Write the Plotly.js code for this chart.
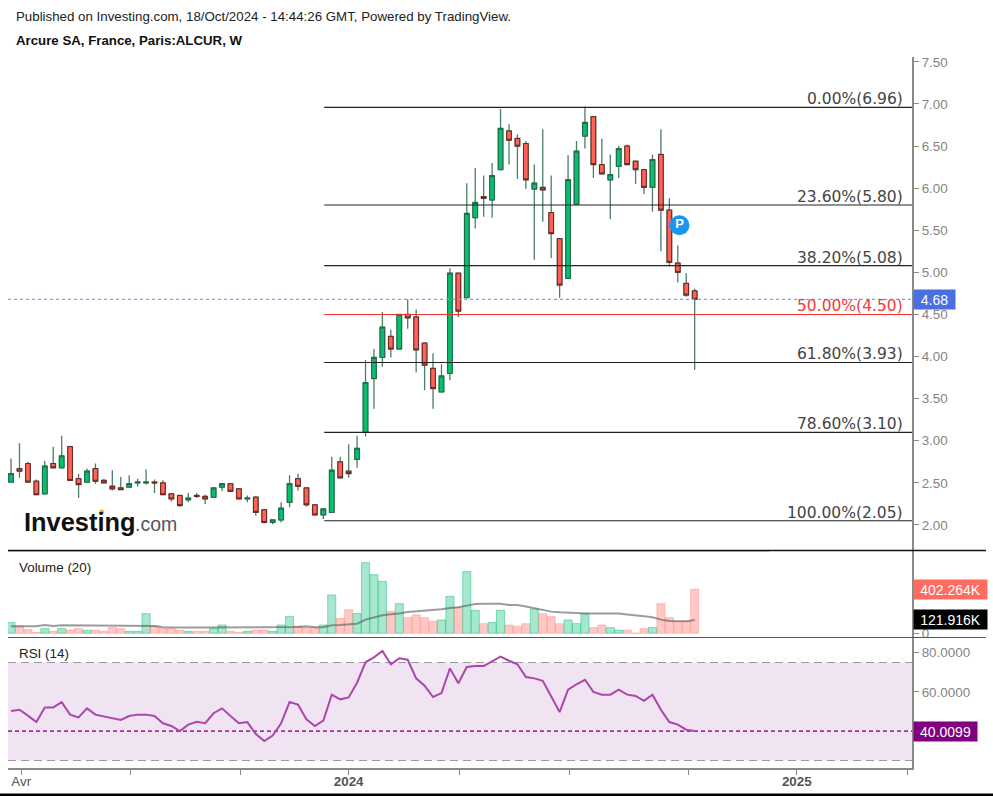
<!DOCTYPE html>
<html>
<head>
<meta charset="utf-8">
<script src="https://cdn.plot.ly/plotly-3.0.1.min.js"></script>
<style>
  html, body { margin: 0; padding: 0; background: #fff; }
  #plot { width: 993px; height: 796px; }
</style>
</head>
<body>
<div id="plot"></div>
<script>
// Weekly candles, index 0 = first week on screen
const opens = [2.51,2.67,2.73,2.52,2.37,2.73,2.68,2.93,2.55,2.51,2.67,2.53,2.46,2.44,2.45,2.50,2.50,2.51,2.50,2.37,
  2.35,2.30,2.35,2.34,2.33,2.45,2.49,2.43,2.31,2.33,2.18,2.03,2.06,2.27,2.55,2.44,2.24,2.12,2.15,2.75,
  2.64,2.78,3.10,3.74,3.99,4.24,4.09,4.50,4.47,4.16,3.86,3.58,3.80,4.99,4.70,5.65,5.90,5.86,6.22,6.68,
  6.59,6.53,5.99,6.01,5.71,5.40,4.93,5.81,6.62,6.85,6.28,6.10,6.26,6.50,6.32,6.22,6.01,6.40,5.74,5.11,4.87,4.78];
const highs = [2.79,2.97,2.75,2.54,2.76,2.93,3.06,2.94,2.61,2.67,2.73,2.55,2.65,2.57,2.59,2.55,2.66,2.54,2.53,2.38,
  2.36,2.38,2.38,2.36,2.45,2.50,2.50,2.44,2.35,2.34,2.18,2.07,2.27,2.59,2.61,2.44,2.25,2.20,2.81,2.81,
  2.96,3.06,3.96,4.09,4.53,4.32,4.50,4.68,4.56,4.17,4.04,3.91,5.05,5.00,6.06,6.24,6.15,6.30,6.94,6.76,
  6.64,6.56,6.28,6.70,6.15,5.40,6.39,6.56,6.97,6.85,6.59,6.40,6.50,6.52,6.33,6.22,6.40,6.70,5.88,5.32,4.99,4.81];
const lows = [2.51,2.56,2.51,2.36,2.37,2.68,2.68,2.53,2.32,2.51,2.49,2.50,2.41,2.42,2.45,2.46,2.48,2.38,2.36,2.28,
  2.22,2.27,2.32,2.25,2.33,2.40,2.40,2.31,2.27,2.11,2.02,2.01,2.03,2.21,2.41,2.22,2.11,2.07,2.15,2.56,
  2.56,2.68,3.05,3.38,3.88,3.99,4.09,4.33,3.81,3.60,3.38,3.58,3.72,4.47,4.70,5.52,5.66,5.65,6.22,6.28,
  6.11,5.99,5.15,5.60,5.17,4.70,4.93,5.81,6.47,6.12,6.16,5.63,6.12,6.28,6.05,5.93,5.72,5.25,5.07,4.88,4.71,3.84];
const closes = [2.61,2.64,2.51,2.36,2.70,2.68,2.82,2.53,2.48,2.64,2.52,2.50,2.43,2.42,2.49,2.51,2.51,2.50,2.36,2.31,
  2.23,2.32,2.34,2.31,2.44,2.49,2.40,2.31,2.32,2.15,2.03,2.06,2.20,2.49,2.46,2.24,2.12,2.19,2.65,2.56,
  2.61,2.91,3.69,3.99,4.35,4.09,4.50,4.46,4.08,3.90,3.62,3.77,4.99,4.54,5.70,5.83,5.88,6.15,6.71,6.57,
  6.50,6.10,6.06,5.98,5.46,4.85,6.10,6.44,6.78,6.28,6.17,6.16,6.47,6.28,6.22,6.01,6.34,5.74,5.12,5.00,4.73,4.68];

const volumes = [98,67,34,9,43,18,43,30,43,27,30,18,52,43,18,18,180,67,43,43,
  30,18,18,18,43,76,18,9,18,30,30,18,76,155,67,52,52,76,350,137,
  216,180,646,536,475,201,271,143,168,143,110,122,338,235,564,210,88,98,210,76,
  64,88,222,180,155,88,122,88,180,52,76,52,30,30,3,43,52,271,143,110,110,402.264];
const volumeMa = [64,64,64,64,76,67,73,73,73,73,73,67,73,73,73,73,73,67,55,52,
  52,52,52,52,52,52,52,52,52,52,52,52,55,55,58,64,55,55,73,76,
  85,88,125,146,165,174,180,195,201,204,210,219,232,238,253,268,271,271,271,259,
  259,244,229,216,198,192,192,186,180,180,180,180,180,171,165,155,146,125,113,110,110,121.916];

const rsi = [50.3,50.9,47.9,44.6,52.1,52.1,54.8,48.4,47.0,51.6,48.4,47.5,46.3,45.7,47.7,48.4,48.4,47.7,44.0,42.6,
  40.0,43.3,44.8,44.0,49.1,51.6,47.7,44.0,44.6,38.5,34.9,37.7,44.0,54.8,53.5,46.0,42.6,45.3,58.6,56.2,
  57.2,64.7,75.1,77.6,80.9,74.1,77.1,76.4,66.9,63.2,57.4,59.4,72.0,64.4,72.7,73.2,73.2,75.4,78.0,75.9,
  74.1,67.6,66.9,65.7,57.6,49.7,61.1,63.9,66.2,60.0,58.6,58.6,61.1,58.6,57.9,55.4,58.6,50.9,44.6,43.3,40.7,40.0099];

const fibPct = ['0.00%','23.60%','38.20%','50.00%','61.80%','78.60%','100.00%'];
const fibLevel = [6.96,5.80,5.08,4.50,3.93,3.10,2.05];
const fibStart = 37.1;

const tickWeeks = [1.2,14.2,27.2,40,53.1,66.2,80.3,93.1,106.2];
const tickNames = ['Avr','','','<b>2024</b>','','','','<b>2025</b>',''];

const lastPrice = 4.68;
const lastVolume = 402.264;
const lastVolumeMa = 121.916;
const lastRsi = 40.0099;
const rsiUpper = 75, rsiLower = 25;

// Helpers
const W = 993, H = 796;
const px = v => v / W;
const py = v => 1 - v / H;
const xStart = -0.36, xEnd = 106.75;
const weeks = closes.map((_, i) => i);
const isUp = closes.map((c, i) => c >= opens[i]);

const GREY = '#8a8a8a';
const AXIS_FONT = { family: 'Liberation Sans, Arial, sans-serif', size: 13.4, color: '#858585' };

function hLine(level, color, width, dash, yaxis, from) {
  return {
    x: [from === undefined ? xStart : from, xEnd], y: [level, level],
    type: 'scatter', mode: 'lines', yaxis,
    line: { color, width, dash },
    hoverinfo: 'skip', showlegend: false
  };
}

function textAt(x, y, text, size, color, extra) {
  return Object.assign({
    xref: 'paper', yref: 'paper', x: px(x), y: py(y),
    text, showarrow: false, xanchor: 'left', yanchor: 'middle',
    font: { family: 'Liberation Sans, Arial, sans-serif', size, color }
  }, extra || {});
}

function valueTag(level, yref, text, color, width) {
  return {
    xref: 'paper', yref, x: px(913), y: level,
    text, showarrow: false, xanchor: 'left', yanchor: 'middle',
    width, height: 19, align: 'center', bgcolor: color, borderpad: 0,
    font: { family: 'Liberation Sans, Arial, sans-serif', size: 14, color: '#fff' }
  };
}

function lineShape(x0, y0, x1, y1, color, width) {
  return { type: 'line', xref: 'paper', yref: 'paper', x0: px(x0), y0: py(y0), x1: px(x1), y1: py(y1),
    line: { color, width } };
}

// Wicks sit in their own trace, they are green-grey on every candle
const wicks = {
  type: 'candlestick', x: weeks, open: opens, high: highs, low: lows, close: closes,
  yaxis: 'y', whiskerwidth: 0, hoverinfo: 'skip', showlegend: false,
  increasing: { line: { color: '#4a7f66', width: 1.3 }, fillcolor: '#4a7f66' },
  decreasing: { line: { color: '#4a7f66', width: 1.3 }, fillcolor: '#4a7f66' }
};
const bodies = {
  type: 'candlestick', x: weeks, open: opens, close: closes,
  high: opens.map((o, i) => Math.max(o, closes[i])),
  low: opens.map((o, i) => Math.min(o, closes[i])),
  yaxis: 'y', whiskerwidth: 0, hoverinfo: 'skip', showlegend: false,
  increasing: { line: { color: '#1f6a4a', width: 1 }, fillcolor: '#07c06e' },
  decreasing: { line: { color: '#6e2320', width: 1 }, fillcolor: '#ff6258' }
};

const fibLines = fibLevel.map((lv, i) =>
  hLine(lv, fibPct[i] === '50.00%' ? '#f23030' : '#222222', 1.1, 'solid', 'y', fibStart));

const volBars = {
  type: 'bar', x: weeks, y: volumes, yaxis: 'y2', width: 0.96,
  marker: {
    color: isUp.map(u => u ? 'rgba(14,189,120,0.37)' : 'rgba(255,98,88,0.35)'),
    line: { width: 1, color: isUp.map(u => u ? 'rgba(14,189,120,0.45)' : 'rgba(255,98,88,0.3)') }
  },
  hoverinfo: 'skip', showlegend: false
};
const volLine = {
  type: 'scatter', mode: 'lines', x: weeks, y: volumeMa, yaxis: 'y2',
  line: { color: 'rgba(90,90,90,0.6)', width: 2 }, hoverinfo: 'skip', showlegend: false
};
const rsiLine = {
  type: 'scatter', mode: 'lines', x: weeks, y: rsi, yaxis: 'y3',
  line: { color: '#ab47ab', width: 2 }, hoverinfo: 'skip', showlegend: false
};
const pin = {
  type: 'scatter', mode: 'markers+text', x: [79.2], y: [5.56], yaxis: 'y',
  marker: { size: 20, color: '#1a96f0' }, text: ['<b>P</b>'], textposition: 'middle center',
  textfont: { family: 'Liberation Sans, Arial, sans-serif', size: 13, color: '#fff' },
  hoverinfo: 'skip', showlegend: false
};

const traces = [
  wicks, bodies, ...fibLines,
  hLine(lastPrice, '#7f9cf2', 1.2, 'dot', 'y'),
  pin,
  volBars, volLine,
  hLine(rsiUpper, '#9a9a9a', 1.2, '8px 5px', 'y3'),
  hLine(rsiLower, '#9a9a9a', 1.2, '8px 5px', 'y3'),
  hLine(lastRsi, '#a32fa3', 1.8, '4px 3px', 'y3'),
  rsiLine
];

const fibLabels = fibLevel.map((lv, i) => ({
  xref: 'paper', yref: 'y', x: px(904.5), y: lv,
  text: fibPct[i] + '(' + lv.toFixed(2) + ')',
  showarrow: false, xanchor: 'right', yanchor: 'bottom', yshift: -3,
  font: { family: 'DejaVu Sans, sans-serif', size: 15.5, color: fibPct[i] === '50.00%' ? '#f23a3a' : '#444444' }
}));

const rightAxis = {
  side: 'right', anchor: 'x', showgrid: false, zeroline: false, showline: true,
  linecolor: GREY, linewidth: 2, ticks: 'outside', ticklen: 5, tickcolor: GREY,
  tickfont: AXIS_FONT, automargin: false
};

const layout = {
  width: W, height: H,
  margin: { l: 0, r: 0, t: 0, b: 0 },
  paper_bgcolor: '#fff', plot_bgcolor: '#fff',
  showlegend: false, hovermode: false, barmode: 'overlay', boxgap: 0.22,
  xaxis: {
    domain: [px(8), px(912)], range: [xStart, xEnd], anchor: 'y3',
    rangeslider: { visible: false }, showgrid: false, zeroline: false,
    showline: true, linecolor: GREY, linewidth: 2,
    ticks: 'outside', ticklen: 5, tickcolor: GREY, tickmode: 'array',
    tickvals: tickWeeks, ticktext: tickNames, ticklabelstandoff: -5,
    tickfont: { family: 'Liberation Sans, Arial, sans-serif', size: 13.4, color: '#555' }
  },
  yaxis: Object.assign({}, rightAxis, {
    domain: [py(550), py(57)], range: [1.703, 7.558],
    tickmode: 'array', tickvals: [2,2.5,3,3.5,4,4.5,5,5.5,6,6.5,7,7.5], tickformat: '.2f'
  }),
  yaxis2: Object.assign({}, rightAxis, {
    domain: [py(637), py(551)], range: [-33.8, 752],
    tickmode: 'array', tickvals: [0], ticktext: ['0']
  }),
  yaxis3: Object.assign({}, rightAxis, {
    domain: [py(768), py(638)], range: [21.17, 87.5],
    tickmode: 'array', tickvals: [40,60,80], tickformat: '.4f'
  }),
  shapes: [
    { type: 'rect', xref: 'paper', yref: 'y3', x0: px(8), x1: px(912), y0: rsiLower, y1: rsiUpper,
      fillcolor: '#f0e4f2', line: { width: 0 }, layer: 'below' },
    lineShape(8, 550.5, 986, 550.5, '#111', 1.3),
    lineShape(8, 551.5, 769, 551.5, '#999', 1),
    lineShape(8, 637.5, 986, 637.5, '#555', 1.2),
    lineShape(0, 795, 993, 795, '#000', 3),
    { type: 'circle', xref: 'paper', yref: 'paper', x0: px(99.5), x1: px(104), y0: py(514), y1: py(509.5),
      fillcolor: '#f5a623', line: { width: 0 } }
  ],
  annotations: [
    textAt(13.5, 17, 'Published on Investing.com, 18/Oct/2024 - 14:44:26 GMT, Powered by TradingView.', 13.3, '#222'),
    textAt(13.5, 40, '<b>Arcure SA, France, Paris:ALCUR, W</b>', 13.25, '#111'),
    textAt(16.5, 567, 'Volume (20)', 13.4, '#222'),
    textAt(16.5, 653, 'RSI (14)', 13.4, '#222'),
    textAt(22, 522, '<b>Investing</b>', 25.4, '#111'),
    textAt(133, 524, '.com', 19.5, '#555'),
    ...fibLabels,
    valueTag(lastPrice, 'y', '4.68', '#4a6fe3', 41),
    valueTag(lastVolume, 'y2', '402.264K', '#ff6b60', 73),
    valueTag(lastVolumeMa, 'y2', '121.916K', '#000', 73),
    valueTag(lastRsi, 'y3', '40.0099', '#800080', 63)
  ]
};

Plotly.newPlot('plot', traces, layout, { staticPlot: true, displayModeBar: false });
</script>
</body>
</html>
